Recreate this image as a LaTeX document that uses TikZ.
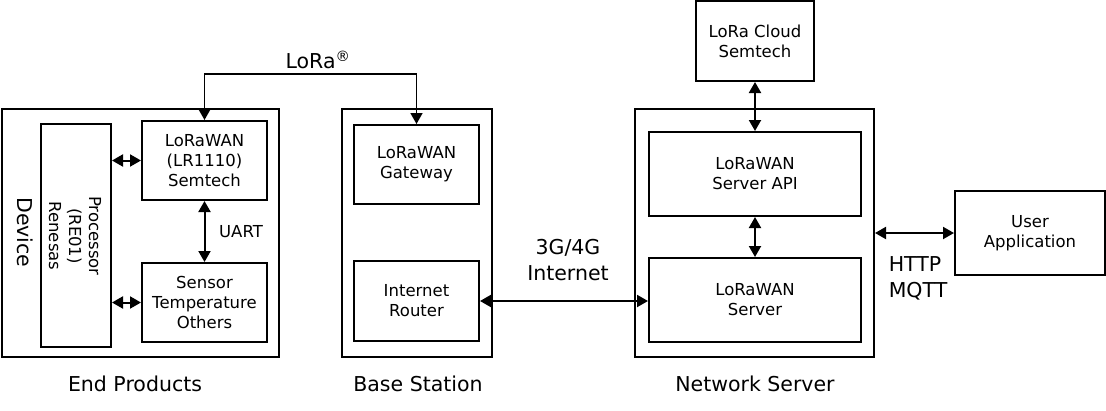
\documentclass[tikz,border=0pt]{standalone}
\usepackage{fontspec}
\setmainfont{DejaVu Sans}
\usetikzlibrary{arrows.meta}
\begin{document}
\begin{tikzpicture}[x=1pt,y=-1pt,
  boxx/.style={draw,line width=2pt,inner sep=0pt,align=center,font=\fontsize{16.5}{20}\selectfont},
  lbl/.style={inner sep=0pt,align=center,font=\fontsize{20.5}{26}\selectfont},
  sml/.style={inner sep=0pt,align=center,font=\fontsize{16.5}{20}\selectfont},
  arr/.style={line width=2pt,{Triangle[length=11pt,width=12pt]}-{Triangle[length=11pt,width=12pt]}}]
\useasboundingbox (0,0) rectangle (1106,410);
% outer boxes
\node[boxx,minimum width=277pt,minimum height=248pt] (ep) at (140.5,233) {};
\node[boxx,minimum width=150pt,minimum height=248pt] (bs) at (417,233) {};
\node[boxx,minimum width=239pt,minimum height=248pt] (ns) at (754.5,233) {};
% end products
\node[boxx,minimum width=70pt,minimum height=223pt] (proc) at (76,235.5) {};
\node[sml,rotate=-90] (proct) at (75,236) {Processor\\(RE01)\\Renesas};
\node[lbl,rotate=-90] (dev) at (25,232.5) {Device};
\node[boxx,minimum width=125pt,minimum height=79pt] (lw) at (204.5,160.5) {LoRaWAN\\(LR1110)\\Semtech};
\node[boxx,minimum width=125pt,minimum height=79pt] (sens) at (204.5,302.5) {Sensor\\Temperature\\Others};
% base station
\node[boxx,minimum width=125pt,minimum height=79pt] (gw) at (416.5,164.5) {LoRaWAN\\Gateway};
\node[boxx,minimum width=125pt,minimum height=80pt] (rt) at (416.5,301) {Internet\\Router};
% network server
\node[boxx,minimum width=118pt,minimum height=80pt] (cloud) at (755,41) {LoRa Cloud\\Semtech};
\node[boxx,minimum width=212pt,minimum height=84pt] (api) at (755,174) {LoRaWAN\\Server API};
\node[boxx,minimum width=212pt,minimum height=84pt] (srv) at (755,300) {LoRaWAN\\Server};
\node[boxx,minimum width=150pt,minimum height=84pt] (app) at (1030,233) {User\\Application};
% connectors
\draw[arr] (lw.west -| proc.east) -- (lw.west);
\draw[arr] (sens.west -| proc.east) -- (sens.west);
\draw[arr] (lw.south) -- (sens.north);
\coordinate (lr) at (310,74);
\draw[arr,line width=1.6pt] (lw.north) |- (lr) -| (gw.north);
\draw[arr] (rt.east) -- (rt.east -| srv.west);
\draw[arr] (cloud.south) -- (api.north);
\draw[arr] (api.south) -- (srv.north);
\draw[arr] (ns.east) -- (app.west);
% labels
\node[lbl] (lora) at (318,60) {LoRa\textsuperscript{®}};
\node[sml] (uart) at (241,232) {UART};
\node[lbl] (inet) at (568,260) {3G/4G\\Internet};
\node[lbl,align=left] (http) at (918,278) {HTTP\\MQTT};
\node[lbl] (epl) at (135,384) {End Products};
\node[lbl] (bsl) at (418,384) {Base Station};
\node[lbl] (nsl) at (755,384) {Network Server};
\end{tikzpicture}
\end{document}
